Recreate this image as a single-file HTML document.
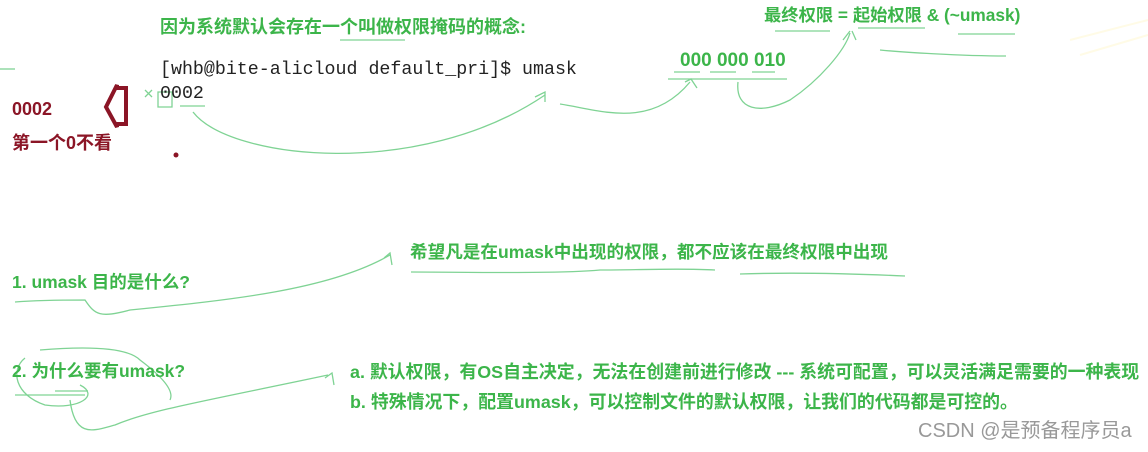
<!DOCTYPE html>
<html><head><meta charset="utf-8"><style>
body{margin:0;width:1148px;height:452px;background:#fff;position:relative;overflow:hidden;font-family:"Liberation Sans","Noto Sans CJK SC",sans-serif}
.t{position:absolute;white-space:nowrap;font-weight:bold;color:#3cb54a;line-height:1}
.r{color:#8b1526}
.m{position:absolute;white-space:nowrap;font-family:"Liberation Mono",monospace;font-size:18.3px;color:#222;line-height:1}
svg{position:absolute;left:0;top:0}
</style></head><body>
<svg width="1148" height="452" fill="none" stroke="#7fd394" stroke-width="1.3">
<path d="M0 69 L15 69"/>
<path d="M340 40 L405 40"/>
<path d="M158 107 L172 107 L172 92 L158 92 Z"/>
<path d="M145 90 L152 97 M152 90 L145 97"/>
<path d="M180 106 L205 106"/>
<path d="M193 112 C230 160 420 180 545 95 M535 97 L545 92 L545 102"/>
<path d="M560 104 C600 110 650 130 690 82 M685 82 L691 79 L697 88"/>
<path d="M668 79 L787 79 M674 72 L700 72 M710 72 L736 72 M752 72 L775 72"/>
<path d="M738 82 C735 110 760 115 790 100 C820 80 845 50 850 33 M843 40 L850 31 M852 31 L856 40"/>
<path d="M775 31 L830 31 M858 28 L925 28 M958 34 L1015 34 M880 50 C900 52 960 56 1006 56"/>
<path d="M15 302 C40 300 70 300 85 300 C95 315 100 318 130 310 C230 300 330 290 390 255 M384 258 L390 253 L392 265"/>
<path d="M411 272 C460 272 560 274 600 270 C640 270 680 268 715 270 M740 274 C800 272 860 274 905 276"/>
<path d="M25 358 C10 370 15 395 45 405 C80 410 100 395 80 385 M40 350 C100 345 130 350 140 360 C160 375 175 390 170 400"/>
<path d="M15 395 L85 395 M55 391 L88 391"/>
<path d="M70 400 C75 440 95 430 115 425 C150 410 210 400 328 375 M325 378 L332 373 L334 385"/>
<path d="M1070 40 L1148 20 M1080 55 L1148 35" stroke="#fffbe6" stroke-width="2"/>
</svg>
<div class="t" style="left:160px;top:18px;font-size:18px">因为系统默认会存在一个叫做权限掩码的概念:</div>
<div class="m" style="left:160px;top:61px">[whb@bite-alicloud default_pri]$ umask</div>
<div class="m" style="left:160px;top:85px">0002</div>
<div class="t r" style="left:12px;top:100px;font-size:18px">0002</div>
<div class="t r" style="left:12px;top:134px;font-size:18px">第一个0不看</div>
<svg width="1148" height="452"><path d="M126 88 L117 88 L117 85 L106 107 L117 127 L117 124 L126 124 Z" stroke="#8b1526" stroke-width="4" fill="none"/><circle cx="176" cy="155" r="2.5" fill="#8b1526"/></svg>
<div class="t" style="left:680px;top:51px;font-size:19px">000 000 010</div>
<div class="t" style="left:764px;top:7px;font-size:17.3px">最终权限 = 起始权限 &amp; (~umask)</div>
<div class="t" style="left:410px;top:244px;font-size:17.6px">希望凡是在umask中出现的权限，都不应该在最终权限中出现</div>
<div class="t" style="left:12px;top:274px;font-size:17.5px">1. umask 目的是什么?</div>
<div class="t" style="left:12px;top:363px;font-size:17.5px">2. 为什么要有umask?</div>
<div class="t" style="left:350px;top:364px;font-size:17.9px">a. 默认权限，有OS自主决定，无法在创建前进行修改 --- 系统可配置，可以灵活满足需要的一种表现</div>
<div class="t" style="left:350px;top:394px;font-size:17.9px">b. 特殊情况下，配置umask，可以控制文件的默认权限，让我们的代码都是可控的。</div>
<div class="t" style="left:918px;top:421px;font-size:20px;font-weight:normal;color:#999">CSDN @是预备程序员a</div>
</body></html>
